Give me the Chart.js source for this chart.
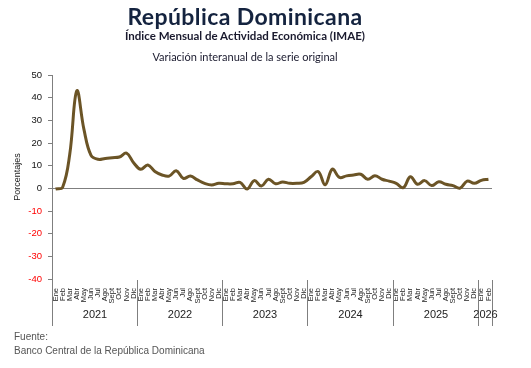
<!DOCTYPE html>
<html>
<head>
<meta charset="utf-8">
<script src="https://cdn.jsdelivr.net/npm/chart.js@4.4.1/dist/chart.umd.min.js"></script>
<style>
  body { margin: 0; background: #fff; }
  #wrap { position: relative; width: 531px; height: 368px; overflow: hidden; font-family: "Liberation Sans", Arial, sans-serif; }
  #wrap canvas { position: absolute; left: 0; top: 0; }
  .txt { position: absolute; left: 0; width: 490px; text-align: center; white-space: nowrap; }
  #t1 { top: 2px; font: bold 23px Lato, sans-serif; color: #14233f; letter-spacing: 0.4px; }
  #t2 { top: 29px; font: bold 11.5px Lato, sans-serif; color: #1a1a2e; }
  #t3 { top: 50px; font: 11px Lato, sans-serif; color: #1a1a2e; }
  .foot { position: absolute; left: 14px; font: 10px "Liberation Sans", Arial, sans-serif; color: #555; }
</style>
</head>
<body>
<div id="wrap">
  <canvas id="imaeChart" width="531" height="368"></canvas>
  <div class="txt" id="t1">República Dominicana</div>
  <div class="txt" id="t2">Índice Mensual de Actividad Económica (IMAE)</div>
  <div class="txt" id="t3">Variación interanual de la serie original</div>
  <div class="foot" style="top:331px">Fuente:</div>
  <div class="foot" style="top:345px">Banco Central de la República Dominicana</div>
</div>
<script>
const meses = ['Ene', 'Feb', 'Mar', 'Abr', 'May', 'Jun', 'Jul', 'Ago', 'Sept', 'Oct', 'Nov', 'Dic'];
const years = ['2021', '2022', '2023', '2024', '2025', '2026'];
const v2021 = [-0.3, 0.5, 15, 43, 26, 14.5, 12.8, 13.2, 13.5, 13.8, 15.5, 11.3];
const v2022 = [8.4, 10.3, 7.4, 5.9, 5.4, 7.8, 4.4, 5.4, 3.7, 2.2, 1.5, 2.2];
const v2023 = [2.0, 2.0, 2.6, -0.3, 3.4, 1.0, 4.0, 2.0, 2.8, 2.2, 2.2, 2.6];
const v2024 = [5.1, 7.4, 1.6, 8.5, 4.8, 5.5, 5.9, 6.2, 4.0, 5.6, 4.0, 3.2];
const v2025 = [2.2, 0.3, 5.1, 1.8, 3.4, 1.2, 2.9, 1.8, 1.2, 0.1, 3.2, 2.2];
const v2026 = [3.5, 4.0];
const yTicks = [-40, -30, -20, -10, 0, 10, 20, 30, 40, 50];

const yearValues = [v2021, v2022, v2023, v2024, v2025, v2026];
const labels = [];
const values = [];
yearValues.forEach(arr => {
    arr.forEach((v, i) => { labels.push(meses[i]); values.push(v); });
});

// year labels and separators under the month labels
const yearRow = {
    id: 'yearRow',
    afterDraw(chart) {
        const x = chart.scales.x;
        const ctx = chart.ctx;
        const w = (x.getPixelForValue(1) - x.getPixelForValue(0));
        const top = chart.chartArea.bottom + 1;
        ctx.save();
        ctx.strokeStyle = '#7f7f7f';
        ctx.lineWidth = 1;
        ctx.fillStyle = '#222';
        ctx.font = '11px "Liberation Sans", Arial, sans-serif';
        ctx.textAlign = 'center';
        ctx.textBaseline = 'middle';
        let start = 0;
        yearValues.forEach((arr, k) => {
            const x0 = Math.round(x.getPixelForValue(start) - w / 2) + 0.5;
            const x1 = Math.round(x.getPixelForValue(start + arr.length - 1) + w / 2) + 0.5;
            ctx.beginPath();
            ctx.moveTo(x0, top);
            ctx.lineTo(x0, 326);
            if (k === yearValues.length - 1) {
                ctx.moveTo(x1, top);
                ctx.lineTo(x1, 326);
            }
            ctx.stroke();
            ctx.fillText(years[k], (x0 + x1) / 2, 315);
            start += arr.length;
        });
        ctx.restore();
    }
};

new Chart(document.getElementById('imaeChart').getContext('2d'), {
    type: 'line',
    data: {
        labels: labels,
        datasets: [{
            data: values,
            borderColor: '#6b5426',
            borderWidth: 3,
            pointRadius: 0,
            tension: 0.4,
            fill: false
        }]
    },
    options: {
        responsive: false,
        animation: false,
        layout: { padding: { top: 75, left: 12, right: 39, bottom: 0 } },
        plugins: { legend: { display: false }, tooltip: { enabled: false } },
        scales: {
            x: {
                offset: true,
                afterFit: s => { s.height = 89; },
                grid: { display: false },
                border: { display: false },
                ticks: {
                    autoSkip: false,
                    minRotation: 90,
                    maxRotation: 90,
                    padding: 1,
                    color: '#222',
                    font: { size: 7.5, family: '"Liberation Sans", Arial, sans-serif' }
                }
            },
            y: {
                min: -40,
                max: 50,
                afterFit: s => { s.width = 40; },
                afterBuildTicks: s => { s.ticks = yTicks.map(v => ({ value: v })); },
                border: { display: true, color: '#7f7f7f' },
                grid: {
                    color: c => (c.tick && c.tick.value === 0) ? '#7f7f7f' : 'rgba(0,0,0,0)',
                    tickColor: '#7f7f7f',
                    tickLength: 4
                },
                ticks: {
                    padding: 6,
                    color: c => c.tick.value < 0 ? '#ff0000' : '#111',
                    font: { size: 9.5, family: '"Liberation Sans", Arial, sans-serif' }
                },
                title: {
                    display: true,
                    text: 'Porcentajes',
                    color: '#222',
                    padding: 0,
                    font: { size: 9, family: '"Liberation Sans", Arial, sans-serif' }
                }
            }
        }
    },
    plugins: [yearRow]
});
</script>
</body>
</html>
